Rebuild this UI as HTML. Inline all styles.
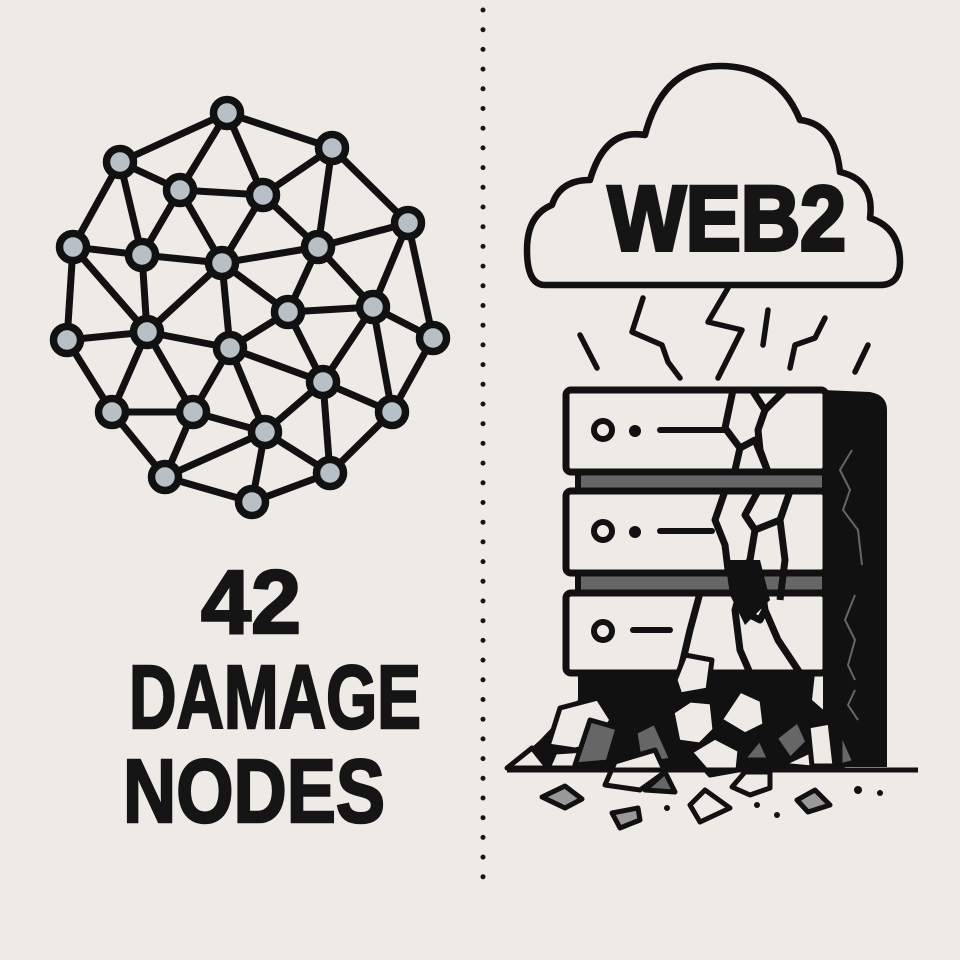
<!DOCTYPE html>
<html><head><meta charset="utf-8"><style>
html,body{margin:0;padding:0;background:#eeebe7;}
svg{display:block}
</style></head><body>
<svg width="960" height="960" viewBox="0 0 960 960" xmlns="http://www.w3.org/2000/svg">
<rect width="960" height="960" fill="#eeebe7"/>
<g stroke="#111" stroke-width="7" stroke-linecap="round">
<path d="M227,113L120,162M227,113L180,190M227,113L263,195M227,113L332,148M120,162L180,190M120,162L73,247M120,162L142,255M180,190L263,195M180,190L142,255M180,190L222,263M263,195L332,148M263,195L222,263M263,195L318,247M332,148L318,247M332,148L408,223M408,223L318,247M408,223L373,307M408,223L433,338M73,247L142,255M73,247L147,332M73,247L67,340M142,255L222,263M142,255L147,332M222,263L318,247M222,263L147,332M222,263L230,348M222,263L288,312M318,247L288,312M318,247L373,307M288,312L373,307M288,312L230,348M288,312L323,382M373,307L323,382M373,307L433,338M373,307L392,412M67,340L147,332M67,340L112,412M147,332L112,412M147,332L193,412M147,332L230,348M230,348L193,412M230,348L265,432M230,348L323,382M433,338L392,412M323,382L265,432M323,382L392,412M323,382L330,473M112,412L193,412M112,412L165,477M193,412L165,477M193,412L265,432M265,432L165,477M265,432L252,502M265,432L330,473M392,412L330,473M165,477L252,502M252,502L330,473"/>
</g>
<g fill="#b7bfc7" stroke="#111" stroke-width="7.5">
<circle cx="227" cy="113" r="13.5"/><circle cx="120" cy="162" r="13.5"/><circle cx="332" cy="148" r="13.5"/><circle cx="180" cy="190" r="13.5"/><circle cx="263" cy="195" r="13.5"/><circle cx="408" cy="223" r="13.5"/><circle cx="73" cy="247" r="13.5"/><circle cx="142" cy="255" r="13.5"/><circle cx="222" cy="263" r="13.5"/><circle cx="318" cy="247" r="13.5"/><circle cx="288" cy="312" r="13.5"/><circle cx="373" cy="307" r="13.5"/><circle cx="67" cy="340" r="13.5"/><circle cx="147" cy="332" r="13.5"/><circle cx="230" cy="348" r="13.5"/><circle cx="433" cy="338" r="13.5"/><circle cx="323" cy="382" r="13.5"/><circle cx="112" cy="412" r="13.5"/><circle cx="193" cy="412" r="13.5"/><circle cx="265" cy="432" r="13.5"/><circle cx="392" cy="412" r="13.5"/><circle cx="165" cy="477" r="13.5"/><circle cx="330" cy="473" r="13.5"/><circle cx="252" cy="502" r="13.5"/>
</g>
<g font-family="Liberation Sans, sans-serif" font-weight="bold" fill="#151515" stroke="#151515" stroke-width="2.5" text-anchor="middle" font-size="90">
<text x="251" y="633">42</text>
<text x="275" y="728" textLength="292" lengthAdjust="spacingAndGlyphs">DAMAGE</text>
<text x="254" y="822" textLength="262" lengthAdjust="spacingAndGlyphs">NODES</text>
</g>
<line x1="483" y1="10" x2="483" y2="895" stroke="#151515" stroke-width="5" stroke-linecap="round" stroke-dasharray="0 19.7"/>
<path d="M545,285 L880,285 Q900,285 900,262 Q900,228 870,218 Q875,180 840,172 Q835,124 800,120 Q778,66 720,66 Q663,66 645,135 Q605,128 590,180 Q560,180 552,205 Q527,215 527,250 Q527,285 545,285 Z" fill="#eeebe7" stroke="#111" stroke-width="6.5" stroke-linejoin="round"/>
<text x="727" y="250" font-family="Liberation Sans, sans-serif" font-weight="bold" font-size="92" fill="#151515" stroke="#151515" stroke-width="4" text-anchor="middle" textLength="238" lengthAdjust="spacingAndGlyphs">WEB2</text>
<g stroke="#111" stroke-width="5.5" fill="none" stroke-linecap="round" stroke-linejoin="round">
<path d="M580,335L597,368"/>
<path d="M643,298L632,332L662,345L668,362L680,378"/>
<path d="M728,288L708,322L742,330L718,378"/>
<path d="M768,310L763,345"/>
<path d="M825,318L815,338L795,345L790,368"/>
<path d="M868,345L855,372"/>
</g>
<path d="M823,390 L870,392 Q887,395 887,410 L887,767 L823,767 Z" fill="#111"/>
<g stroke="#666" stroke-width="2" fill="none">
<path d="M852,450L840,470L850,490L843,510L858,530L862,565"/>
<path d="M855,595L845,620L855,640L848,665L855,680"/>
<path d="M855,690L848,705L858,720"/>
</g>
<rect x="578" y="470" width="247" height="22" fill="#666" stroke="#111" stroke-width="6"/>
<rect x="578" y="571" width="247" height="23" fill="#666" stroke="#111" stroke-width="6"/>
<g fill="#eeebe7" stroke="#111" stroke-width="7">
<rect x="566" y="390" width="260" height="82" rx="5"/>
<rect x="566" y="491" width="260" height="82" rx="5"/>
<rect x="566" y="593" width="260" height="80" rx="5"/>
</g>
<g stroke="#111" stroke-width="6" fill="none" stroke-linecap="round">
<circle cx="603" cy="430" r="9"/><line x1="660" y1="430" x2="724" y2="430"/>
<circle cx="603" cy="531" r="9"/><line x1="660" y1="531" x2="712" y2="531"/>
<circle cx="603" cy="631" r="9"/><line x1="633" y1="630" x2="670" y2="630"/>
</g>
<g fill="#111"><circle cx="635" cy="431" r="6"/><circle cx="635" cy="532" r="6"/></g>
<g stroke="#111" stroke-width="7" fill="none" stroke-linejoin="round">
<path d="M733,390L725,428L740,448L735,470"/>
<path d="M752,390L765,410L758,430L760,450L768,472"/>
<path d="M785,390L765,410"/>
<path d="M740,448L755,440L768,472"/>
<path d="M725,491L715,520L725,545L728,570"/>
<path d="M758,491L745,515L755,530L750,560L740,575"/>
<path d="M790,491L780,520L785,560L780,600"/>
<path d="M755,530L780,520"/>
<path d="M745,575L735,610L740,650L750,673"/>
<path d="M760,575L765,610L778,640L800,673"/>
<path d="M700,593L690,630L680,673"/>
<path d="M740,610L760,620L765,610"/>
</g>
<path d="M725,560L760,560L770,600L745,625L730,595Z" fill="#111"/>
<path d="M578,673L815,673L812,700L835,720L840,770L507,770L540,740L578,700Z" fill="#111"/>
<g stroke="#111" stroke-width="5" stroke-linejoin="round">
<path d="M507,768L532,748L548,768Z" fill="#eeebe7"/>
<path d="M548,746L560,708L598,698L612,720L595,745L575,750Z" fill="#eeebe7"/>
<path d="M548,768L555,752L585,750L590,768Z" fill="#eeebe7"/>
<path d="M575,765L590,720L618,728L608,762Z" fill="#666"/>
<path d="M635,732L655,722L672,760L640,765Z" fill="#666"/>
<path d="M605,785L615,762L655,750L665,772L640,790Z" fill="#eeebe7"/>
<path d="M645,790L665,772L675,792Z" fill="#666"/>
<path d="M672,712L690,700L712,702L715,730L700,745L678,742Z" fill="#eeebe7"/>
<path d="M690,752L715,737L740,750L738,770L710,775Z" fill="#eeebe7"/>
<path d="M720,720L740,690L762,700L765,725L745,735Z" fill="#eeebe7"/>
<path d="M675,680L685,655L712,660L708,690L680,695Z" fill="#eeebe7"/>
<path d="M742,760L760,738L770,760Z" fill="#666"/>
<path d="M732,787L745,772L770,772L770,788L750,795Z" fill="#eeebe7"/>
<path d="M775,738L798,720L808,742L790,760Z" fill="#666"/>
<path d="M780,765L812,750L812,768Z" fill="#eeebe7"/>
<path d="M808,726L830,722L835,766L812,766Z" fill="#eeebe7"/>
<path d="M840,728L855,762L840,766Z" fill="#666"/>
<path d="M542,797L565,786L582,799L565,808Z" fill="#999"/>
<path d="M612,813L638,808L640,820L620,828Z" fill="#999"/>
<path d="M690,805L705,790L730,808L700,822Z" fill="#eeebe7"/>
<path d="M797,800L815,790L830,805L808,812Z" fill="#999"/>
</g>
<line x1="507" y1="770" x2="918" y2="770" stroke="#111" stroke-width="5"/>
<g fill="#111"><circle cx="667" cy="808" r="3"/><circle cx="757" cy="805" r="3"/><circle cx="777" cy="815" r="3"/><circle cx="858" cy="790" r="4"/><circle cx="880" cy="793" r="3"/></g>
</svg>
</body></html>
